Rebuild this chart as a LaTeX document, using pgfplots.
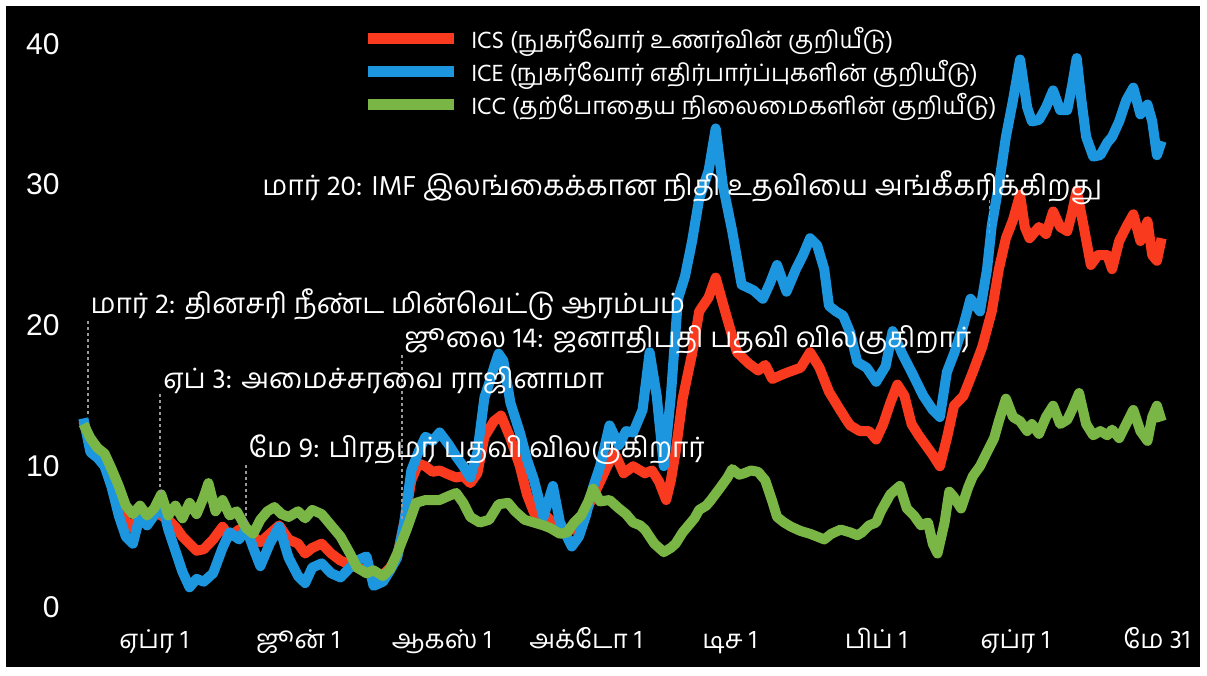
\documentclass[border=0pt]{standalone}
\usepackage{pgfplots}
\pgfplotsset{compat=1.18}
\usepackage{pgfplotstable}
\usepackage{fontspec}
\setmainfont{Liberation Sans}
\newfontfamily\ta[Script=Tamil]{Hind Madurai}
\definecolor{icsred}{RGB}{250,58,30}
\definecolor{iceblue}{RGB}{28,150,222}
\definecolor{iccgreen}{RGB}{122,182,70}

\pgfplotstableread{
d v
-30 13.2
-27 11.6
-24 10.8
-21 10.3
-18 9.0
-15 7.6
-12 6.1
-9 5.6
-6 6.8
-3 6.2
0 6.8
3 6.5
6 6.2
9 5.7
12 5.0
15 4.5
18 4.0
21 4.1
25 4.8
29 5.7
32 5.0
36 5.5
39 5.6
42 5.0
45 4.6
49 5.2
53 5.8
57 4.8
61 4.5
64 3.8
67 4.2
71 4.5
75 3.8
79 3.3
83 3.0
86 2.8
90 2.6
93 2.2
97 2.3
100 2.8
103 3.6
106 6.0
109 9.0
112 10.2
115 10.0
118 9.6
121 9.7
125 9.4
128 9.2
131 9.3
134 8.8
137 9.5
140 12.1
144 13.2
147 13.6
151 12.0
155 10.0
158 8.0
161 6.7
166 6.5
172 5.5
178 5.5
182 6.5
185 7.5
189 8.9
192 10.0
195 11.0
199 9.5
203 10.0
208 9.5
211 9.7
214 8.9
217 7.6
219 9.0
221 11.0
224 14.8
228 18.0
231 21.0
235 22.0
238 23.4
242 21.0
247 18.1
252 17.3
256 16.8
259 17.2
262 16.2
266 16.5
269 16.7
274 17.0
278 18.1
282 17.0
286 15.3
290 14.2
293 13.4
295 12.9
299 12.5
303 12.5
306 11.9
309 13.0
312 14.5
315 15.8
318 15.0
321 13.0
324 12.2
327 11.5
330 10.8
333 10.0
336 12.0
339 14.3
343 15.0
347 16.7
351 18.5
355 21.0
358 24.0
361 26.2
364 27.5
367 29.3
369 27.0
371 26.2
375 27.0
378 26.5
381 28.1
384 27.0
387 26.7
389 28.0
391 29.6
394 27.0
397 24.3
400 25.0
404 25.0
406 24.0
409 26.0
412 27.0
415 27.9
418 26.0
421 27.4
423 25.0
425 24.6
427 26.2
}\ics

\pgfplotstableread{
d v
-30 13.4
-27 11.0
-24 10.6
-21 10.0
-18 8.5
-15 6.5
-12 5.0
-9 4.5
-6 6.5
-3 5.8
0 6.5
3 7.6
6 5.5
9 4.0
12 2.5
15 1.4
18 2.0
21 1.8
25 2.4
29 4.2
32 5.3
36 4.8
39 5.6
42 4.2
45 2.9
49 4.5
53 5.7
57 3.5
61 2.2
64 1.7
67 2.8
71 3.1
75 2.4
79 2.1
83 2.8
86 3.3
90 3.6
93 1.5
97 1.8
100 2.6
103 3.5
106 6.0
109 9.7
112 11.0
115 12.1
118 11.8
121 12.4
125 11.5
128 10.7
131 10.0
134 9.2
137 11.0
140 14.9
142 15.9
144 17.0
146 18.0
148 17.5
151 14.5
155 12.4
158 10.5
161 9.0
165 6.4
169 8.6
172 6.0
177 4.3
180 5.0
183 6.5
186 8.5
189 10.0
193 12.9
197 11.5
200 12.5
203 12.4
207 14.0
210 18.1
213 15.0
216 10.0
219 15.0
222 21.9
225 23.5
228 26.0
231 29.0
235 31.0
238 34.0
241 30.0
245 26.7
249 22.9
254 22.5
258 21.9
261 23.0
264 24.3
268 22.4
272 24.0
275 25.0
278 26.2
281 25.7
284 24.0
286 21.4
289 21.0
292 20.7
295 19.5
298 17.4
302 17.0
306 16.0
310 17.1
313 19.6
317 18.0
321 16.7
326 15.0
330 14.0
333 13.5
336 16.7
339 18.0
343 20.0
346 21.9
350 21.0
353 24.0
355 27.1
358 30.0
361 33.4
364 36.0
367 38.9
370 35.5
372 34.5
375 34.6
378 35.5
381 36.7
384 35.3
387 35.3
389 37.0
391 39.0
393 36.0
395 33.4
398 32.0
401 32.1
404 33.0
406 33.4
409 34.5
412 36.0
415 36.9
418 35.0
421 35.7
423 34.5
425 32.1
427 33.1
}\ice

\pgfplotstableread{
d v
-30 13.0
-27 12.0
-24 11.3
-21 10.9
-18 9.8
-15 8.6
-12 7.2
-9 6.6
-6 7.2
-3 6.5
0 7.0
3 8.0
6 6.5
9 7.2
12 6.3
15 7.4
18 6.6
21 7.8
23 8.8
26 6.8
29 7.6
32 6.5
35 6.8
39 5.6
42 5.2
45 6.2
48 6.8
51 7.1
54 6.6
57 6.4
61 6.8
64 6.3
67 6.9
71 6.6
75 5.8
79 5.0
83 3.8
86 2.8
90 2.4
93 2.6
97 2.2
100 2.7
103 3.8
107 5.5
111 7.4
115 7.6
121 7.6
125 7.9
128 8.1
131 7.4
134 6.4
138 6.0
142 6.2
146 7.3
150 7.4
153 6.8
157 6.2
161 6.0
165 5.8
168 5.6
172 5.2
175 5.3
178 6.0
181 6.5
184 7.5
186 8.4
189 7.5
193 7.6
197 7.0
200 6.6
203 6.0
206 5.8
208 5.5
212 4.5
216 3.9
219 4.2
221 4.5
224 5.3
226 5.7
229 6.3
231 6.9
234 7.2
236 7.6
240 8.5
243 9.2
245 9.8
248 9.4
250 9.5
253 9.7
256 9.6
259 9.0
262 7.5
264 6.4
267 6.0
270 5.7
274 5.4
278 5.2
281 5.0
284 4.8
287 5.2
291 5.5
295 5.3
298 5.1
300 5.3
303 5.8
306 6.0
308 6.8
312 8.0
316 8.6
319 7.0
322 6.5
325 5.8
328 6.0
330 4.5
332 3.8
335 6.0
337 8.2
339 7.8
342 7.0
345 8.5
347 9.3
350 10.0
353 11.0
356 12.0
358 13.2
361 14.8
364 13.5
367 13.2
370 12.5
372 13.0
375 12.3
378 13.5
381 14.3
384 13.0
387 13.3
389 14.0
392 15.2
395 13.0
398 12.2
401 12.5
404 12.2
406 12.6
409 12.0
412 13.0
415 14.0
418 12.5
421 11.8
423 13.5
425 14.3
427 13.2
}\icc

\begin{document}
\begin{tikzpicture}
\fill[white] (0,0) rectangle (1207bp,676bp);
\fill[black] (6bp,9bp) rectangle (1200bp,670bp);
\begin{axis}[
  at={(81bp,69bp)}, anchor=south west,
  scale only axis, width=1083bp, height=563bp,
  xmin=-31, xmax=428, ymin=0, ymax=40,
  axis line style={draw=none}, tick style={draw=none},
  ytick={0,10,20,30,40},
  xtick={0,61,122,183,244,306,365,425},
  xticklabels={ஏப்ர 1,ஜூன் 1,ஆகஸ் 1,அக்டோ 1,டிச 1,பிப் 1,ஏப்ர 1,மே 31},
  typeset ticklabels with strut,
  yticklabel style={text=white, font=\fontsize{30bp}{36bp}\selectfont, xshift=-18bp, yshift=-3bp},
  xticklabel style={text=white, font=\ta\fontsize{26bp}{32bp}\selectfont, yshift=-16bp},
  /pgf/number format/assume math mode=true,
  clip=false,
  legend cell align=left,
  legend style={draw=none, fill=none, text=white, at={(0.26,1.033)}, anchor=north west,
    font=\ta\fontsize{24bp}{30bp}\selectfont, row sep=6bp, inner sep=0pt},
  legend image code/.code={\draw[#1, line width=11bp] (0bp,0bp) -- (86bp,0bp); \path (96bp,0bp);},
]
\addplot[icsred, line width=10bp, line join=round] table[x=d,y=v] {\ics};
\addlegendentry{ICS (நுகர்வோர் உணர்வின் குறியீடு)}
\addplot[iceblue, line width=10bp, line join=round] table[x=d,y=v] {\ice};
\addlegendentry{ICE (நுகர்வோர் எதிர்பார்ப்புகளின் குறியீடு)}
\addplot[iccgreen, line width=10bp, line join=round] table[x=d,y=v] {\icc};
\addlegendentry{ICC (தற்போதைய நிலைமைகளின் குறியீடு)}

\draw[gray!80, dashed, line width=1.5bp] (axis cs:-28,20.3) -- (axis cs:-28,13.6);
\draw[gray!80, dashed, line width=1.5bp] (axis cs:2.5,15.1) -- (axis cs:2.5,8.0);
\draw[gray!80, dashed, line width=1.5bp] (axis cs:39,10.1) -- (axis cs:39,5.8);
\draw[gray!80, dashed, line width=1.5bp] (axis cs:105,17.9) -- (axis cs:105,6.2);
\draw[gray!80, dashed, line width=1.5bp] (axis cs:354,28.9) -- (axis cs:354,26.4);

\tikzset{ann/.style={text=white, anchor=west, inner sep=0pt, font=\ta\fontsize{28bp}{34bp}\selectfont}}
\node[ann] at (axis cs:-27,21.5) {மார் 2: தினசரி நீண்ட மின்வெட்டு ஆரம்பம்};
\node[ann] at (axis cs:3.8,16.1) {ஏப் 3: அமைச்சரவை ராஜினாமா};
\node[ann] at (axis cs:40,11.2) {மே 9: பிரதமர் பதவி விலகுகிறார்};
\node[ann] at (axis cs:106,19.0) {ஜூலை 14: ஜனாதிபதி பதவி விலகுகிறார்};
\node[ann] at (axis cs:45.8,29.8) {மார் 20: IMF இலங்கைக்கான நிதி உதவியை அங்கீகரிக்கிறது};
\end{axis}
\pgfresetboundingbox
\useasboundingbox (0,0) rectangle (1207bp,676bp);
\end{tikzpicture}
\end{document}
